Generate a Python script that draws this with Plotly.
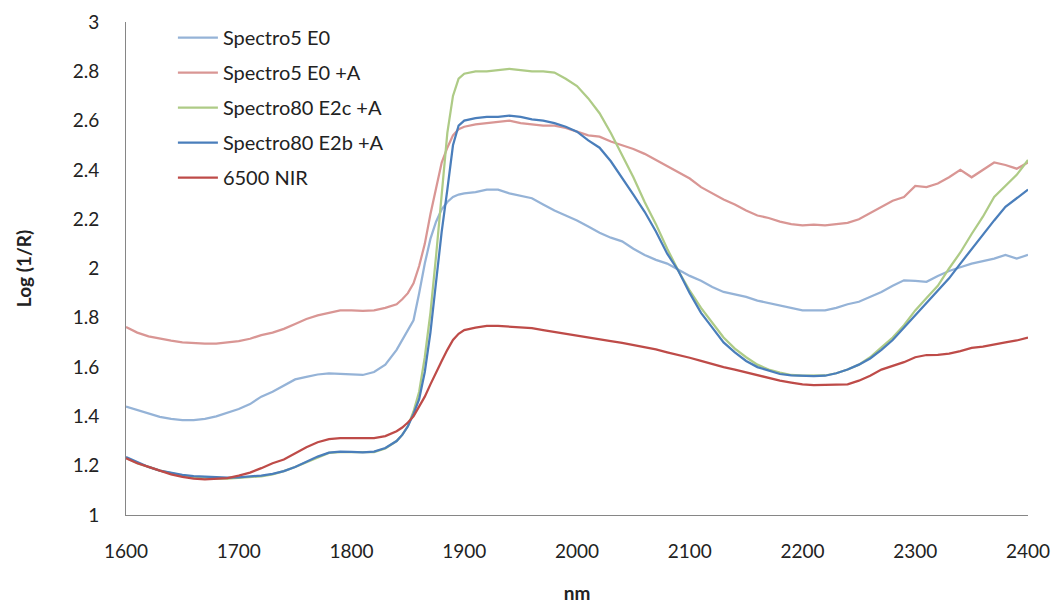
import plotly.graph_objects as go

nm = (list(range(1600, 1841, 10)) + list(range(1845, 1901, 5)) + list(range(1910, 2401, 10)))

spectro5_e0 = [
    1.44, 1.425, 1.41, 1.398, 1.39, 1.385, 1.385, 1.39, 1.40, 1.415, 1.43, 1.45, 1.48, 1.50, 1.525,
    1.55, 1.56, 1.57, 1.575, 1.572, 1.568, 1.568, 1.58, 1.61, 1.67,
    1.71, 1.75, 1.79, 1.90, 2.02, 2.12, 2.19, 2.24, 2.27, 2.29, 2.30, 2.305,
    2.31, 2.32, 2.32, 2.305, 2.295, 2.285, 2.26, 2.235, 2.215, 2.195,
    2.17, 2.145, 2.125, 2.11, 2.08, 2.055, 2.035, 2.02, 1.995, 1.97,
    1.95, 1.925, 1.905, 1.895, 1.885, 1.87, 1.86, 1.85, 1.84, 1.83,
    1.83, 1.83, 1.84, 1.855, 1.865, 1.885, 1.905, 1.93, 1.952, 1.95,
    1.946, 1.97, 1.99, 2.005, 2.02, 2.03, 2.04, 2.055, 2.04, 2.055,
]

spectro5_e0_a = [
    1.763, 1.74, 1.725, 1.715, 1.707, 1.70, 1.697, 1.695, 1.695, 1.70, 1.705, 1.715, 1.73, 1.74, 1.755,
    1.775, 1.795, 1.81, 1.82, 1.83, 1.83, 1.828, 1.83, 1.84, 1.855,
    1.875, 1.90, 1.94, 2.01, 2.10, 2.22, 2.33, 2.43, 2.49, 2.54, 2.565, 2.575,
    2.585, 2.59, 2.595, 2.60, 2.59, 2.585, 2.58, 2.58, 2.57, 2.555,
    2.54, 2.535, 2.515, 2.50, 2.485, 2.465, 2.44, 2.415, 2.39, 2.365,
    2.33, 2.305, 2.28, 2.26, 2.235, 2.215, 2.205, 2.19, 2.18, 2.175,
    2.178, 2.175, 2.18, 2.185, 2.20, 2.225, 2.25, 2.275, 2.29, 2.335,
    2.33, 2.345, 2.37, 2.40, 2.37, 2.40, 2.43, 2.42, 2.405, 2.43,
]

spectro80_e2c_a = [
    1.232, 1.21, 1.195, 1.18, 1.17, 1.16, 1.155, 1.15, 1.148, 1.148, 1.15, 1.152, 1.157, 1.165, 1.178,
    1.195, 1.215, 1.235, 1.252, 1.255, 1.255, 1.252, 1.255, 1.27, 1.30,
    1.325, 1.36, 1.42, 1.50, 1.64, 1.82, 2.05, 2.30, 2.55, 2.70, 2.77, 2.79,
    2.80, 2.80, 2.805, 2.81, 2.805, 2.80, 2.80, 2.795, 2.77, 2.74,
    2.69, 2.63, 2.55, 2.46, 2.37, 2.27, 2.18, 2.08, 1.99, 1.91,
    1.84, 1.78, 1.72, 1.675, 1.64, 1.61, 1.59, 1.578, 1.568, 1.565,
    1.564, 1.566, 1.575, 1.59, 1.61, 1.64, 1.68, 1.72, 1.77, 1.83,
    1.88, 1.93, 2.00, 2.065, 2.14, 2.21, 2.29, 2.335, 2.38, 2.44,
]

spectro80_e2b_a = [
    1.235, 1.215, 1.195, 1.18, 1.17, 1.163, 1.158, 1.155, 1.153, 1.152, 1.153, 1.155, 1.16, 1.167, 1.178,
    1.195, 1.215, 1.237, 1.253, 1.257, 1.256, 1.254, 1.257, 1.272, 1.30,
    1.325, 1.36, 1.41, 1.47, 1.58, 1.74, 1.94, 2.15, 2.32, 2.50, 2.58, 2.60,
    2.61, 2.615, 2.615, 2.62, 2.615, 2.605, 2.60, 2.59, 2.575, 2.555,
    2.52, 2.49, 2.435, 2.37, 2.30, 2.23, 2.15, 2.06, 1.99, 1.90,
    1.82, 1.76, 1.70, 1.66, 1.625, 1.60, 1.585, 1.572, 1.566, 1.564,
    1.563, 1.565, 1.575, 1.59, 1.61, 1.635, 1.67, 1.71, 1.76, 1.81,
    1.86, 1.91, 1.96, 2.02, 2.08, 2.14, 2.195, 2.25, 2.285, 2.32,
]

nir_6500 = [
    1.23, 1.21, 1.195, 1.18, 1.165, 1.155, 1.148, 1.145, 1.146, 1.15, 1.16, 1.172, 1.19, 1.21, 1.225,
    1.25, 1.275, 1.295, 1.308, 1.312, 1.312, 1.312, 1.312, 1.32, 1.34,
    1.355, 1.375, 1.40, 1.44, 1.48, 1.53, 1.58, 1.625, 1.67, 1.71, 1.735, 1.75,
    1.76, 1.767, 1.767, 1.765, 1.763, 1.758, 1.75, 1.742, 1.735, 1.728,
    1.72, 1.712, 1.705, 1.698, 1.69, 1.682, 1.672, 1.66, 1.65, 1.638,
    1.625, 1.612, 1.60, 1.59, 1.578, 1.568, 1.557, 1.545, 1.537, 1.53,
    1.527, 1.527, 1.527, 1.53, 1.545, 1.565, 1.59, 1.605, 1.62, 1.64,
    1.649, 1.65, 1.655, 1.665, 1.678, 1.683, 1.69, 1.70, 1.708, 1.72,
]

series_names = ["Spectro5 E0", "Spectro5 E0 +A", "Spectro80 E2c +A", "Spectro80 E2b +A", "6500 NIR"]
series_values = [spectro5_e0, spectro5_e0_a, spectro80_e2c_a, spectro80_e2b_a, nir_6500]
series_colors = ["#95B3D7", "#D99694", "#AECB86", "#4A7EBB", "#BE4B48"]

x_ticks = [1600, 1700, 1800, 1900, 2000, 2100, 2200, 2300, 2400]
y_ticks = [1, 1.2, 1.4, 1.6, 1.8, 2, 2.2, 2.4, 2.6, 2.8, 3]

FONT = "Lato, 'Open Sans', sans-serif"

fig = go.Figure()
for i, (name, vals, col) in enumerate(zip(series_names, series_values, series_colors)):
    fig.add_trace(go.Scatter(
        x=nm, y=vals, name=name, mode="lines",
        line=dict(color=col, width=2.25), legendgroup=f"g{i}",
    ))

fig.update_layout(
    width=1056, height=605,
    margin=dict(l=126, r=28, t=22, b=90, autoexpand=False),
    paper_bgcolor="white", plot_bgcolor="white",
    font=dict(family=FONT, size=19, color="#222222"),
    showlegend=True,
    legend=dict(x=0.052, y=1.008, xanchor="left", yanchor="top",
                bgcolor="rgba(0,0,0,0)", font=dict(size=20, color="#222222"),
                tracegroupgap=6, itemwidth=40),
    xaxis=dict(range=[1600, 2400], tickvals=x_ticks, ticktext=[str(v) for v in x_ticks],
               showgrid=False, zeroline=False, showline=True, linecolor="#868686", linewidth=1,
               ticks="", ticklabelstandoff=19, automargin=False,
               title=dict(text="<b>nm</b>", font=dict(size=19), standoff=25)),
    yaxis=dict(range=[1, 3], tickvals=y_ticks, ticktext=["1", "1.2", "1.4", "1.6", "1.8", "2", "2.2", "2.4", "2.6", "2.8", "3"],
               showgrid=False, zeroline=False, showline=True, linecolor="#868686", linewidth=1,
               ticks="", ticklabelstandoff=22, automargin=False,
               title=dict(text="<b>Log (1/R)</b>", font=dict(size=19), standoff=36)),
)

fig.write_html("out.html", config={"displayModeBar": False},
               post_script="document.body.style.margin='0px';document.body.style.padding='0px';")
